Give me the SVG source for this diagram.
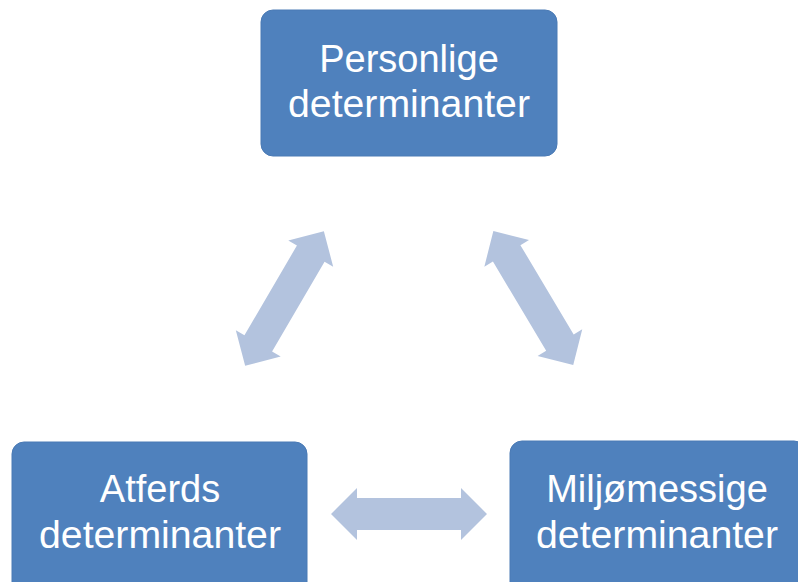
<svg xmlns="http://www.w3.org/2000/svg" width="798" height="582" viewBox="0 0 798 582">
  <style>
    .box { fill: #4F81BD; stroke: #4A7AB5; stroke-width: 1; }
    .lbl { fill: #FFFFFF; font-family: "Liberation Sans", Arial, sans-serif; font-size: 38px; text-anchor: middle; }
    .arr { fill: #B3C3DE; }
  </style>
  <defs>
    <polygon id="dblarrow" points="-78,0 -52,-26 -52,-16 52,-16 52,-26 78,0 52,26 52,16 -52,16 -52,26"/>
  </defs>
  <rect width="798" height="582" fill="#FFFFFF"/>
  <g id="connectors">
    <use href="#dblarrow" class="arr" transform="translate(284.5,298.5) rotate(-59.7)"/>
    <use href="#dblarrow" class="arr" transform="translate(533.3,298) rotate(59.2)"/>
    <use href="#dblarrow" class="arr" transform="translate(409,514)"/>
  </g>
  <g id="personlige">
    <rect class="box" x="261" y="10" width="296" height="146" rx="12"/>
    <text class="lbl" x="409" y="72">Personlige</text>
    <text class="lbl" x="409" y="117" textLength="242" lengthAdjust="spacingAndGlyphs">determinanter</text>
  </g>
  <g id="atferds">
    <rect class="box" x="12" y="442" width="295" height="160" rx="12"/>
    <text class="lbl" x="160" y="502">Atferds</text>
    <text class="lbl" x="160" y="548" textLength="242" lengthAdjust="spacingAndGlyphs">determinanter</text>
  </g>
  <g id="miljomessige">
    <rect class="box" x="510" y="441" width="296" height="160" rx="12"/>
    <text class="lbl" x="657" y="502">Miljømessige</text>
    <text class="lbl" x="657" y="548" textLength="242" lengthAdjust="spacingAndGlyphs">determinanter</text>
  </g>
</svg>
